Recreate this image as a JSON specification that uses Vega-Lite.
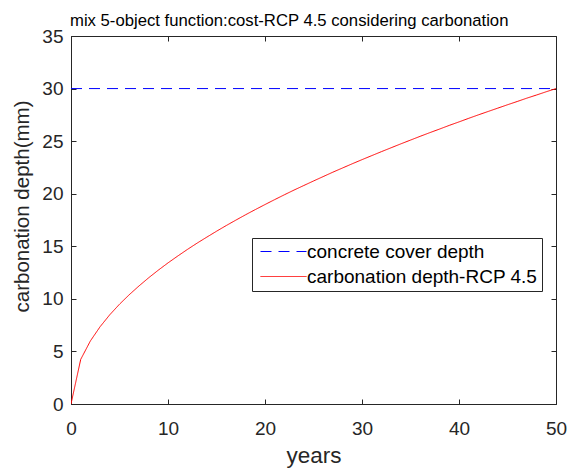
{
  "$schema": "https://vega.github.io/schema/vega-lite/v6.json",
  "width": 485,
  "height": 368,
  "autosize": "none",
  "padding": {"left": 71, "top": 36, "right": 13, "bottom": 64},
  "background": "white",
  "title": {
    "text": "mix 5-object function:cost-RCP 4.5 considering carbonation",
    "anchor": "start",
    "frame": "group",
    "dx": -1,
    "dy": 11,
    "offset": 8,
    "font": "Liberation Sans",
    "fontSize": 16.7,
    "fontWeight": "normal",
    "color": "#000000"
  },
  "config": {
    "view": {"stroke": "#262626", "strokeWidth": 1},
    "font": "Liberation Sans",
    "axis": {
      "grid": false,
      "labelFlush": false,
      "labelOverlap": false,
      "domainColor": "#262626",
      "tickColor": "#262626",
      "tickWidth": 1,
      "labelFont": "Liberation Sans",
      "labelFontSize": 19,
      "labelColor": "#262626",
      "titleFont": "Liberation Sans",
      "titleFontWeight": "normal",
      "titleColor": "#262626"
    }
  },
  "datasets": {
    "cover": [
      {"year": 0, "depth": 30, "series": "concrete cover depth"},
      {"year": 50, "depth": 30, "series": "concrete cover depth"}
    ],
    "carb": [
      {"year": 0, "depth": 0, "series": "carbonation depth-RCP 4.5"},
      {"year": 1, "depth": 4.24, "series": "carbonation depth-RCP 4.5"},
      {"year": 2, "depth": 6.0, "series": "carbonation depth-RCP 4.5"},
      {"year": 3, "depth": 7.35, "series": "carbonation depth-RCP 4.5"},
      {"year": 4, "depth": 8.49, "series": "carbonation depth-RCP 4.5"},
      {"year": 5, "depth": 9.49, "series": "carbonation depth-RCP 4.5"},
      {"year": 6, "depth": 10.39, "series": "carbonation depth-RCP 4.5"},
      {"year": 7, "depth": 11.22, "series": "carbonation depth-RCP 4.5"},
      {"year": 8, "depth": 12.0, "series": "carbonation depth-RCP 4.5"},
      {"year": 9, "depth": 12.73, "series": "carbonation depth-RCP 4.5"},
      {"year": 10, "depth": 13.42, "series": "carbonation depth-RCP 4.5"},
      {"year": 11, "depth": 14.07, "series": "carbonation depth-RCP 4.5"},
      {"year": 12, "depth": 14.7, "series": "carbonation depth-RCP 4.5"},
      {"year": 13, "depth": 15.3, "series": "carbonation depth-RCP 4.5"},
      {"year": 14, "depth": 15.87, "series": "carbonation depth-RCP 4.5"},
      {"year": 15, "depth": 16.43, "series": "carbonation depth-RCP 4.5"},
      {"year": 16, "depth": 16.97, "series": "carbonation depth-RCP 4.5"},
      {"year": 17, "depth": 17.49, "series": "carbonation depth-RCP 4.5"},
      {"year": 18, "depth": 18.0, "series": "carbonation depth-RCP 4.5"},
      {"year": 19, "depth": 18.49, "series": "carbonation depth-RCP 4.5"},
      {"year": 20, "depth": 18.97, "series": "carbonation depth-RCP 4.5"},
      {"year": 21, "depth": 19.44, "series": "carbonation depth-RCP 4.5"},
      {"year": 22, "depth": 19.9, "series": "carbonation depth-RCP 4.5"},
      {"year": 23, "depth": 20.35, "series": "carbonation depth-RCP 4.5"},
      {"year": 24, "depth": 20.78, "series": "carbonation depth-RCP 4.5"},
      {"year": 25, "depth": 21.21, "series": "carbonation depth-RCP 4.5"},
      {"year": 26, "depth": 21.63, "series": "carbonation depth-RCP 4.5"},
      {"year": 27, "depth": 22.05, "series": "carbonation depth-RCP 4.5"},
      {"year": 28, "depth": 22.45, "series": "carbonation depth-RCP 4.5"},
      {"year": 29, "depth": 22.85, "series": "carbonation depth-RCP 4.5"},
      {"year": 30, "depth": 23.24, "series": "carbonation depth-RCP 4.5"},
      {"year": 31, "depth": 23.62, "series": "carbonation depth-RCP 4.5"},
      {"year": 32, "depth": 24.0, "series": "carbonation depth-RCP 4.5"},
      {"year": 33, "depth": 24.37, "series": "carbonation depth-RCP 4.5"},
      {"year": 34, "depth": 24.74, "series": "carbonation depth-RCP 4.5"},
      {"year": 35, "depth": 25.1, "series": "carbonation depth-RCP 4.5"},
      {"year": 36, "depth": 25.46, "series": "carbonation depth-RCP 4.5"},
      {"year": 37, "depth": 25.81, "series": "carbonation depth-RCP 4.5"},
      {"year": 38, "depth": 26.15, "series": "carbonation depth-RCP 4.5"},
      {"year": 39, "depth": 26.5, "series": "carbonation depth-RCP 4.5"},
      {"year": 40, "depth": 26.83, "series": "carbonation depth-RCP 4.5"},
      {"year": 41, "depth": 27.17, "series": "carbonation depth-RCP 4.5"},
      {"year": 42, "depth": 27.5, "series": "carbonation depth-RCP 4.5"},
      {"year": 43, "depth": 27.82, "series": "carbonation depth-RCP 4.5"},
      {"year": 44, "depth": 28.14, "series": "carbonation depth-RCP 4.5"},
      {"year": 45, "depth": 28.46, "series": "carbonation depth-RCP 4.5"},
      {"year": 46, "depth": 28.77, "series": "carbonation depth-RCP 4.5"},
      {"year": 47, "depth": 29.09, "series": "carbonation depth-RCP 4.5"},
      {"year": 48, "depth": 29.39, "series": "carbonation depth-RCP 4.5"},
      {"year": 49, "depth": 29.7, "series": "carbonation depth-RCP 4.5"},
      {"year": 50, "depth": 30.0, "series": "carbonation depth-RCP 4.5"}
    ]
  },
  "resolve": {"axis": {"x": "independent", "y": "independent"}},
  "layer": [
    {
      "data": {"name": "cover"},
      "mark": {"type": "line", "strokeWidth": 1, "clip": true},
      "encoding": {
        "x": {
          "field": "year", "type": "quantitative",
          "scale": {"domain": [0, 50], "nice": false, "zero": false},
          "axis": {"orient": "top", "values": [0, 10, 20, 30, 40, 50], "labels": false, "title": null, "domain": false, "tickSize": 5, "offset": -5}
        },
        "y": {
          "field": "depth", "type": "quantitative",
          "scale": {"domain": [0, 35], "nice": false, "zero": false},
          "axis": {"orient": "right", "values": [0, 5, 10, 15, 20, 25, 30, 35], "labels": false, "title": null, "domain": false, "tickSize": 5, "offset": -5}
        },
        "color": {
          "field": "series", "type": "nominal",
          "scale": {"domain": ["concrete cover depth", "carbonation depth-RCP 4.5"], "range": ["#0000ff", "#ff0000"]},
          "legend": {
            "title": null,
            "orient": "none",
            "legendX": 181,
            "legendY": 202,
            "padding": 4,
            "fillColor": "#ffffff",
            "strokeColor": "#262626",
            "symbolType": "M-1,0H8.2",
            "symbolSize": 100,
            "symbolStrokeWidth": 1,
            "labelFont": "Liberation Sans",
            "labelFontSize": 19,
            "labelColor": "#000000",
            "labelOffset": 32,
            "rowPadding": 5,
            "labelLimit": 400
          }
        },
        "strokeDash": {
          "field": "series", "type": "nominal",
          "scale": {"domain": ["concrete cover depth", "carbonation depth-RCP 4.5"], "range": [[11, 7], [1, 0]]},
          "legend": {
            "title": null,
            "orient": "none",
            "legendX": 181,
            "legendY": 202,
            "padding": 4,
            "fillColor": "#ffffff",
            "strokeColor": "#262626",
            "symbolType": "M-1,0H8.2",
            "symbolSize": 100,
            "symbolStrokeWidth": 1,
            "labelFont": "Liberation Sans",
            "labelFontSize": 19,
            "labelColor": "#000000",
            "labelOffset": 32,
            "rowPadding": 5,
            "labelLimit": 400
          }
        }
      }
    },
    {
      "data": {"name": "carb"},
      "mark": {"type": "line", "strokeWidth": 1, "clip": true},
      "encoding": {
        "x": {
          "field": "year", "type": "quantitative",
          "axis": {"orient": "bottom", "values": [0, 10, 20, 30, 40, 50], "ticks": false, "title": "years", "titleFontSize": 22.5, "labelPadding": 15, "titlePadding": 6}
        },
        "y": {
          "field": "depth", "type": "quantitative",
          "axis": {"orient": "left", "values": [0, 5, 10, 15, 20, 25, 30, 35], "ticks": false, "title": "carbonation depth(mm)", "titleFontSize": 20.5, "labelPadding": 8, "titlePadding": 9, "titleY": 170}
        },
        "color": {"field": "series", "type": "nominal"},
        "strokeDash": {"field": "series", "type": "nominal"}
      }
    },
    {
      "data": {"name": "cover"},
      "mark": {"type": "line", "opacity": 0},
      "encoding": {
        "x": {
          "field": "year", "type": "quantitative",
          "axis": {"orient": "bottom", "values": [0, 10, 20, 30, 40, 50], "labels": false, "title": null, "domain": false, "tickSize": 5, "offset": -5}
        },
        "y": {
          "field": "depth", "type": "quantitative",
          "axis": {"orient": "left", "values": [0, 5, 10, 15, 20, 25, 30, 35], "labels": false, "title": null, "domain": false, "tickSize": 5, "offset": -5}
        }
      }
    }
  ]
}
